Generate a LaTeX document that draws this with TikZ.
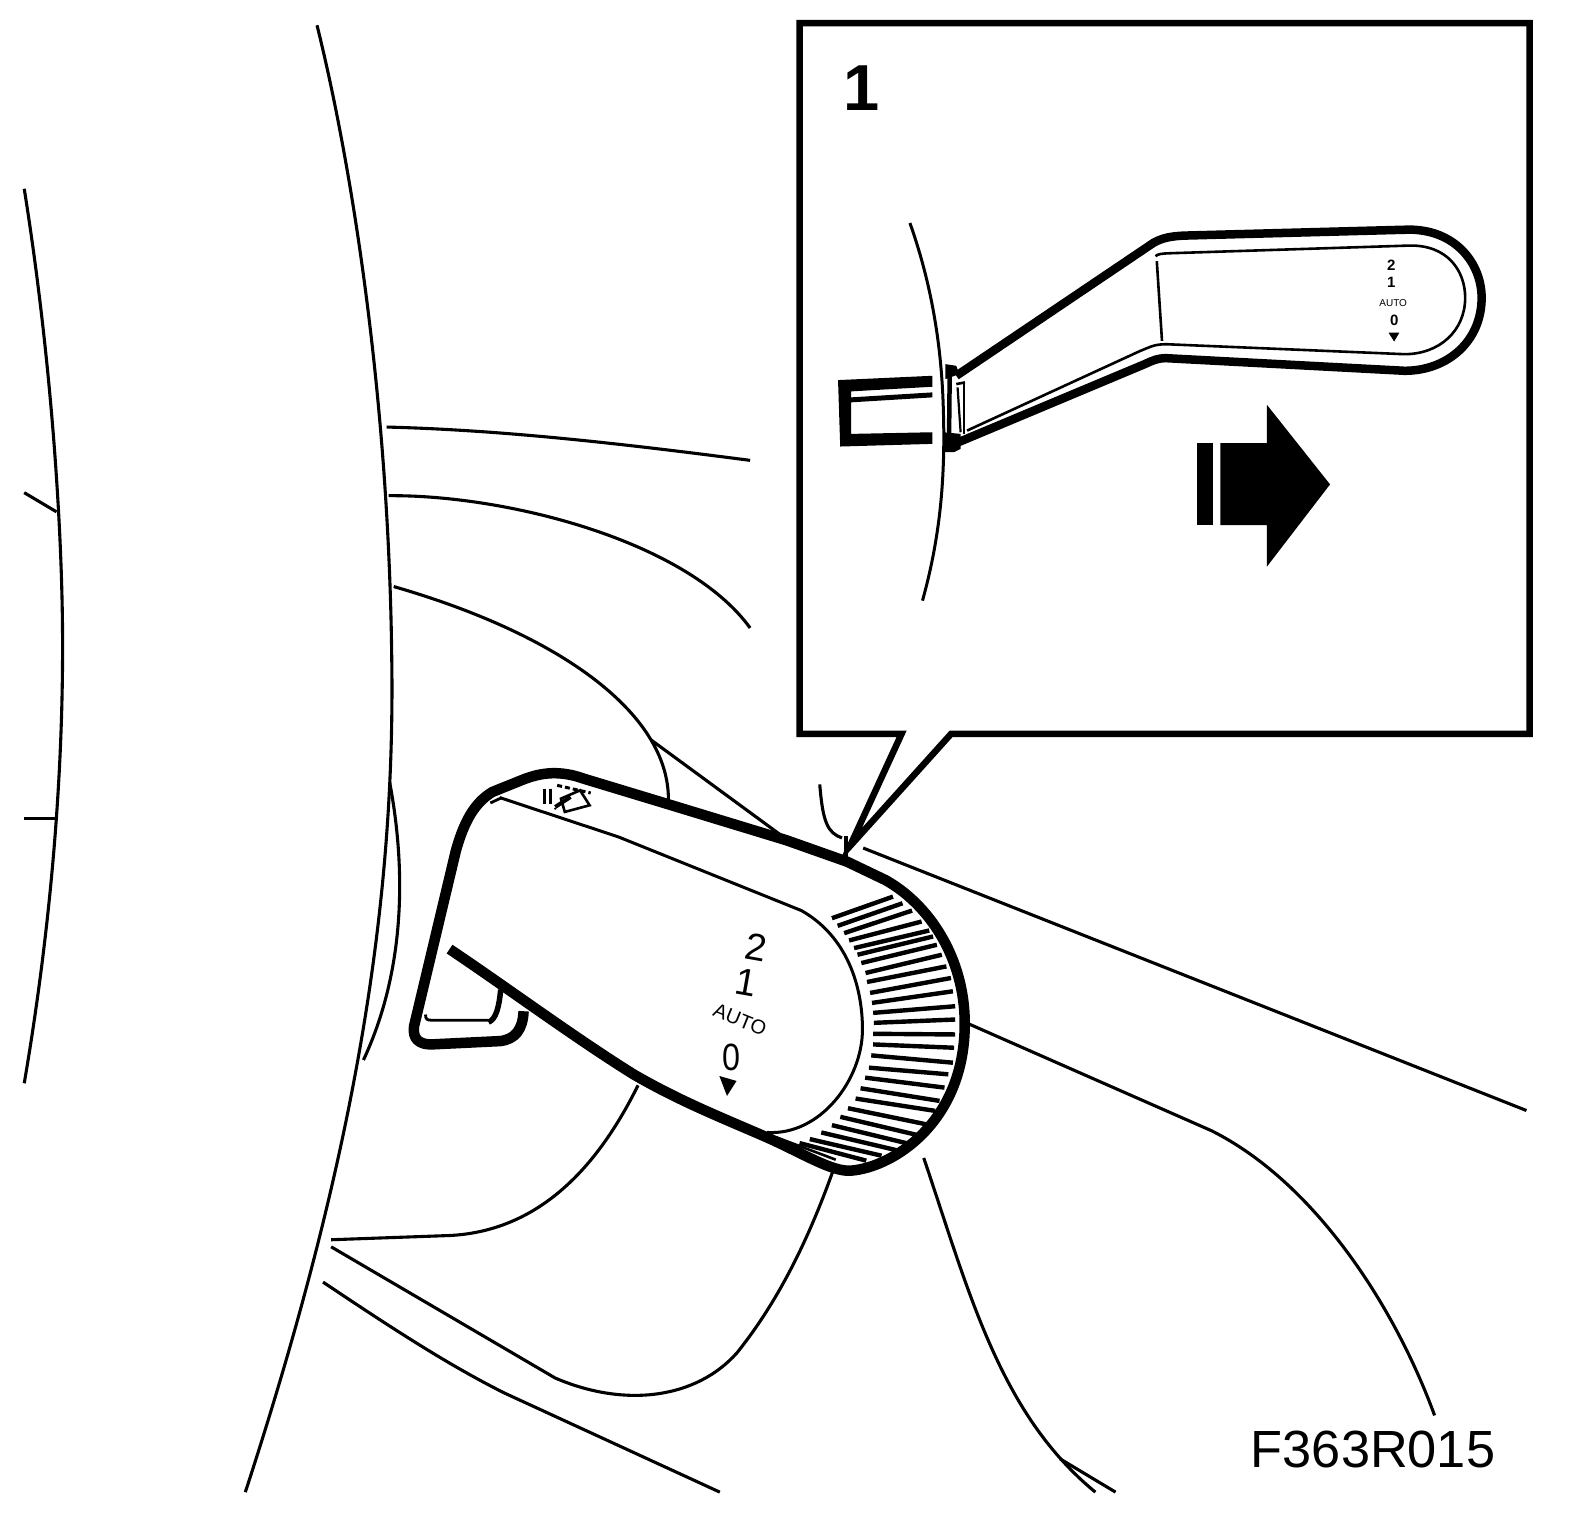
\documentclass[tikz,border=0pt]{standalone}
\usepackage{fontspec}
\setmainfont{Liberation Sans}
\tikzset{
  thin line/.style={line width=3.1pt,line cap=butt,line join=round},
  thick line/.style={line width=10.5pt,line join=round,line cap=butt},
  tick line/.style={line width=4.4pt,line cap=butt},
  inset thick/.style={line width=8.5pt,line join=round},
  inset thin/.style={line width=2.6pt,line join=round},
  lbl/.style={inner sep=0pt,text=black}
}
\begin{document}
\begin{tikzpicture}[x=1.0095pt,y=-1.0095pt]
\useasboundingbox (0,0) rectangle (1569,1503.7);
% background lines
\draw[thin line] (314,25) .. controls (350,170) and (385,400) .. (388,650) .. controls (392,900) and (350,1150) .. (243,1478);
\draw[thin line] (24,187) .. controls (50,350) and (62,520) .. (62,640) .. controls (62,800) and (45,950) .. (24,1073);
\draw[thin line] (24,488) -- (56,507);
\draw[thin line] (24,811) -- (54,811);
\draw[thin line] (383,423) .. controls (500,426) and (620,440) .. (743,456);
\draw[thin line] (385,491) .. controls (500,490) and (680,535) .. (743,622);
\draw[thin line] (390,581) .. controls (560,630) and (665,710) .. (662,795);
\draw[thin line] (645,733) -- (780,832);
\draw[thin line] (386,775) .. controls (402,860) and (402,960) .. (360,1050);
\draw[thin line] (812,777) .. controls (815,815) and (820,825) .. (834,830);
\draw[thin line] (855,840) -- (1512,1100);
\draw[thin line] (950,1010) -- (1200,1120) .. controls (1300,1170) and (1380,1290) .. (1421,1402);
\draw[thin line] (915,1147) .. controls (960,1280) and (990,1400) .. (1085,1478);
\draw[thin line] (1050,1445) -- (1105,1478);
\draw[thin line] (632,1075) .. controls (590,1160) and (530,1222) .. (440,1224) -- (328,1228);
\draw[thin line] (328,1235) -- (550,1365) .. controls (620,1395) and (690,1385) .. (730,1340) .. controls (770,1290) and (800,1230) .. (825,1160);
\draw[thin line] (320,1270) .. controls (380,1310) and (440,1350) .. (500,1380) -- (713,1478);
% callout
\draw[line width=6.5pt,miter limit=20,fill=white] (792,23) -- (1515,23) -- (1515,727) -- (942,727) -- (842,838) -- (893,727) -- (792,727) -- cycle;
\draw[line width=3.5pt] (838,828) -- (838,852);
\node[lbl,font=\bfseries\fontsize{65}{65}\selectfont] (onelabel) at (853,87) {1};
\node[lbl,font=\fontsize{52.3}{52.3}\selectfont] (code) at (1360,1436) {F363R015};
% lever, in crop coordinates
\begin{scope}[cm={0.378,0,0,0.329,(378,733.5)}]
\draw[thick line,fill=white] (178,628) .. controls (330,745) and (500,890) .. (660,1005) .. controls (780,1085) and (890,1135) .. (1000,1190) .. controls (1100,1240) and (1180,1300) .. (1230,1295) .. controls (1340,1285) and (1525,1150) .. (1528,860) .. controls (1530,650) and (1430,490) .. (1320,420) -- (1220,365) -- (1060,300) -- (760,195) -- (530,115) .. controls (470,90) and (420,95) .. (370,118) -- (290,155) .. controls (240,190) and (215,250) .. (195,330) -- (85,860) .. controls (80,900) and (100,915) .. (130,915) -- (310,905) .. controls (350,900) and (370,870) .. (372,815);
\draw[line width=2.8pt] (115,825) .. controls (115,840) and (120,842) .. (130,842) -- (280,842);
\draw[line width=5.5pt] (312,750) .. controls (308,800) and (300,840) .. (280,848);
\draw[line width=3pt] (310,172) -- (620,290) -- (1100,512) .. controls (1220,590) and (1260,740) .. (1260,870) .. controls (1260,1020) and (1150,1190) .. (1010,1180);
\draw[line width=2.8pt] (285,188) -- (315,172);
\foreach \a/\b/\c/\d in {1180/535/1340/470,1195/558/1365/490,1212/580/1390/512,1225/602/1415/545,1238/625/1435/572,1247/645/1445/590,1257/670/1455/615,1268/700/1468/645,1272/727/1480/680,1280/760/1492/715,1285/790/1497/755,1288/820/1503/800,1290/850/1503/840,1288/883/1503/885,1288/915/1500/925,1283/948/1497/970,1277/985/1485/1005,1267/1015/1475/1045,1255/1047/1462/1085,1242/1078/1450/1115,1222/1107/1425/1155,1202/1133/1412/1190,1180/1158/1385/1215,1152/1180/1355/1235,1122/1200/1310/1250,1095/1212/1270/1265}
  {\draw[tick line] (\a,\b) -- (\c,\d);}
\draw[line width=2.6pt] (1035,1195) -- (1190,1262);
% wiper icon
\draw[line width=3pt] (428,145) -- (428,190) (442,145) -- (442,190);
\draw[line width=4pt] (455,200) -- (495,170);
\draw[line width=2.6pt] (480,215) -- (545,195) -- (520,150) -- (470,175) -- cycle;
\fill (455,205) circle (3.5pt);
\draw[line width=3pt,dash pattern=on 5pt off 3pt] (460,135) -- (548,158);
\fill (885,1010) -- (930,1025) -- (905,1070) -- cycle;
\end{scope}
\node[lbl,rotate=-10,font=\fontsize{38}{38}\selectfont] (ltwo) at (749,938) {2};
\node[lbl,rotate=-10,font=\fontsize{38}{38}\selectfont] (lone) at (739,973) {1};
\node[lbl,rotate=-22,font=\fontsize{20}{20}\selectfont] (lauto) at (733,1010) {AUTO};
\node[lbl,xscale=.85,font=\fontsize{38}{38}\selectfont] (lzero) at (725,1047) {0};
% inset, in crop coordinates
\begin{scope}[cm={0.429,0,0,0.329,(803.5,199.5)}]
\draw[line width=3pt] (228,65) .. controls (270,220) and (300,400) .. (305,620) .. controls (310,820) and (300,1000) .. (257,1202);
\draw[inset thick] (335,525) -- (790,125) .. controls (810,110) and (830,105) .. (860,103) -- (1380,85) .. controls (1490,85) and (1548,190) .. (1548,290) .. controls (1548,420) and (1470,510) .. (1370,510) -- (820,472) .. controls (800,472) and (790,478) .. (770,490) -- (340,725);
\draw[inset thin] (795,165) .. controls (800,158) and (810,157) .. (830,156) -- (1380,133) .. controls (1470,130) and (1510,210) .. (1510,290) .. controls (1510,390) and (1450,460) .. (1370,460) -- (820,430) .. controls (790,430) and (780,440) .. (760,450) -- (360,690);
\draw[inset thin] (798,180) -- (810,420);
\draw[inset thin] (335,550) -- (355,545);
\draw[line width=4.5pt] (320,495) -- (318,750);
\draw[line width=2.2pt] (338,560) -- (345,695);
\draw[line width=2.2pt] (352,545) -- (352,700);
\fill (310,490) -- (335,495) -- (342,520) -- (310,535) -- cycle;
\fill (305,695) -- (345,700) -- (345,745) -- (330,755) -- (305,755) -- cycle;
\fill (62,538) -- (280,525) -- (280,558) -- (92,572) -- (92,590) -- (280,575) -- (280,590) -- (92,605) -- (92,700) -- (280,695) -- (280,730) -- (67,738) -- cycle;
\fill (890,728) rectangle (928,975);
\fill (945,728) -- (1052,728) -- (1052,612) -- (1198,852) -- (1052,1100) -- (1052,975) -- (945,975) -- cycle;
\fill (1333,395) -- (1358,395) -- (1346,422) -- cycle;
\end{scope}
\node[lbl,font=\bfseries\fontsize{15}{15}\selectfont] (itwo) at (1378,263) {2};
\node[lbl,font=\bfseries\fontsize{15}{15}\selectfont] (ione) at (1378,280) {1};
\node[lbl,font=\fontsize{10}{10}\selectfont] (iauto) at (1380,300) {AUTO};
\node[lbl,font=\bfseries\fontsize{15}{15}\selectfont] (izero) at (1381,317) {0};
\end{tikzpicture}
\end{document}
